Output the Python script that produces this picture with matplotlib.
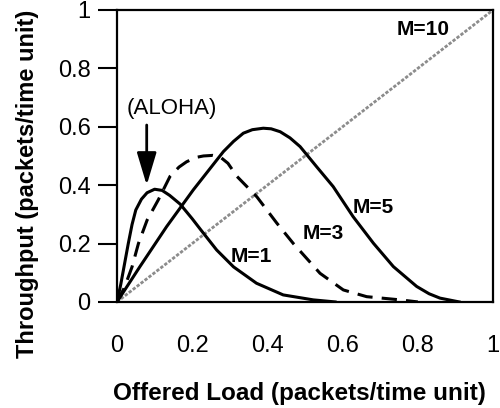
import matplotlib
matplotlib.use("Agg")
from matplotlib import pyplot as plt

plt.rcParams['font.family'] = ['Liberation Sans', 'DejaVu Sans']

# offered load / throughput
m1_x = [0, 0.01, 0.02, 0.03, 0.04, 0.05, 0.065, 0.08, 0.1, 0.12, 0.14, 0.168, 0.2, 0.221, 0.265, 0.31, 0.371, 0.442, 0.522, 0.58]
m1_y = [0, 0.06, 0.13, 0.2, 0.265, 0.315, 0.352, 0.374, 0.386, 0.382, 0.365, 0.335, 0.285, 0.25, 0.178, 0.12, 0.064, 0.024, 0.007, 0]

m3_x = [0, 0.02, 0.04, 0.057, 0.08, 0.11, 0.141, 0.165, 0.185, 0.21, 0.23, 0.255, 0.274, 0.295, 0.319, 0.372, 0.425, 0.469, 0.54, 0.602, 0.664, 0.753, 0.8]
m3_y = [0, 0.05, 0.12, 0.2, 0.28, 0.35, 0.43, 0.462, 0.48, 0.495, 0.5, 0.502, 0.497, 0.475, 0.43, 0.36, 0.27, 0.2, 0.098, 0.041, 0.018, 0.007, 0]

m5_x = [0, 0.061, 0.132, 0.203, 0.283, 0.31, 0.336, 0.36, 0.389, 0.41, 0.434, 0.46, 0.487, 0.531, 0.575, 0.628, 0.682, 0.735, 0.797, 0.83, 0.859, 0.91]
m5_y = [0, 0.121, 0.258, 0.384, 0.515, 0.55, 0.578, 0.59, 0.595, 0.593, 0.583, 0.562, 0.532, 0.463, 0.395, 0.292, 0.201, 0.121, 0.053, 0.028, 0.013, 0]

m10_x = [0, 1]
m10_y = [0, 1]

tick_vals = [0, 0.2, 0.4, 0.6, 0.8, 1]
tick_labels = ["0", "0.2", "0.4", "0.6", "0.8", "1"]

fig = plt.figure(figsize=(5, 4.08), dpi=100)
ax = fig.add_axes([0.234, 0.26, 0.752, 0.7155])

ax.plot(m10_x, m10_y, color="#8c8c8c", lw=2.0, ls=(0, (1.2, 0.6)))
ax.plot(m1_x, m1_y, color="black", lw=2.2, solid_joinstyle="round")
ax.plot(m3_x, m3_y, color="black", lw=2.2, ls=(0, (5, 3)))
ax.plot(m5_x, m5_y, color="black", lw=2.2, solid_joinstyle="round")

ax.set_xlim(0, 1)
ax.set_ylim(0, 1)
for s in ax.spines.values():
    s.set_linewidth(1.6)

ax.set_xticks(tick_vals)
ax.set_xticklabels(tick_labels, fontsize=17)
ax.set_yticks(tick_vals)
ax.set_yticklabels(tick_labels, fontsize=17)
ax.tick_params(axis="x", length=0, pad=24)
ax.tick_params(axis="y", length=14, width=1.5, pad=5)

ax.set_xlabel("Offered Load (packets/time unit)", fontsize=17.5, fontweight="bold", va="center")
ax.xaxis.set_label_coords(0.485, -0.312)
ax.set_ylabel("Throughput (packets/time unit)", fontsize=17, fontweight="bold", va="center")
ax.yaxis.set_label_coords(-0.239, 0.405)

# curve labels
ax.text(0.814, 0.932, "M=10", fontsize=15, fontweight="bold", ha="center", va="center")
ax.text(0.681, 0.325, "M=5", fontsize=15, fontweight="bold", ha="center", va="center")
ax.text(0.548, 0.233, "M=3", fontsize=15, fontweight="bold", ha="center", va="center")
ax.text(0.356, 0.154, "M=1", fontsize=15, fontweight="bold", ha="center", va="center")
ax.text(0.146, 0.661, "(ALOHA)", fontsize=16, ha="center", va="center")
ax.annotate("", xy=(0.079, 0.40), xytext=(0.079, 0.606),
            arrowprops=dict(arrowstyle="-|>,head_length=1.0,head_width=0.3",
                            color="black", lw=2, mutation_scale=20, shrinkA=0, shrinkB=0))

fig.savefig("out.png", dpi=100)
